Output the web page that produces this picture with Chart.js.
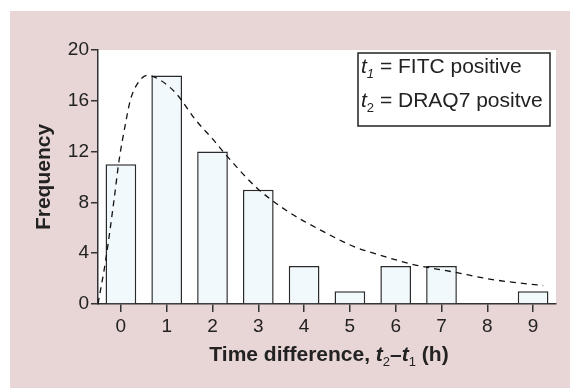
<!DOCTYPE html>
<html>
<head>
<meta charset="utf-8">
<script src="https://cdn.jsdelivr.net/npm/chart.js@4/dist/chart.umd.min.js"></script>
<style>
  body { margin: 0; background: #fff; }
  #panel { position: absolute; left: 10px; top: 11px; width: 560px; height: 377px; background: #e8d5d5; }
</style>
</head>
<body>
<div id="panel"><canvas id="histChart" width="560" height="377"></canvas></div>
<script>
// Dados do histograma
const categories = ['0', '1', '2', '3', '4', '5', '6', '7', '8', '9'];
const frequency = [11, 18, 12, 9, 3, 1, 3, 3, 0, 1];

// Curva ajustada (tracejada)
const fitX = [-0.5, -0.33, -0.15, -0.04, 0.09, 0.21, 0.39, 0.58, 0.87, 1.2, 1.63, 2.0, 2.4, 2.98, 3.64, 4.37, 5.1, 5.61, 6.34, 7.29, 8.16, 9.22];
const fitY = [0, 3.5, 8.2, 11.3, 14.0, 16.1, 17.5, 18.0, 17.6, 16.6, 14.5, 13.0, 11.3, 9.1, 7.3, 5.8, 4.5, 3.9, 3.15, 2.5, 1.9, 1.45];

const legendLines = [
  { sub: '1', text: ' = FITC positive' },
  { sub: '2', text: ' = DRAQ7 positve' }
];

const FONT = '"Liberation Sans", Arial, Helvetica, sans-serif';
const INK = '#222';

// desenha trechos de texto com estilos diferentes em sequência
function drawRuns(ctx, runs, x, y, align) {
  let total = 0;
  runs.forEach(r => { ctx.font = r.font; total += ctx.measureText(r.text).width; });
  let cx = align === 'center' ? x - total / 2 : x;
  ctx.textBaseline = 'alphabetic';
  ctx.textAlign = 'left';
  runs.forEach(r => {
    ctx.font = r.font;
    ctx.fillText(r.text, cx, y + (r.dy || 0));
    cx += ctx.measureText(r.text).width;
  });
}

const extras = {
  id: 'extras',
  beforeDraw(chart) {
    const { ctx, chartArea: a } = chart;
    ctx.save();
    ctx.fillStyle = '#fff';
    ctx.fillRect(a.left, a.top, a.right - a.left, a.bottom - a.top);
    ctx.restore();
  },
  afterDraw(chart) {
    const { ctx, chartArea: a } = chart;
    ctx.save();
    ctx.fillStyle = INK;

    // título do eixo y
    ctx.save();
    ctx.translate(34, (a.top + a.bottom) / 2);
    ctx.rotate(-Math.PI / 2);
    ctx.font = 'bold 21px ' + FONT;
    ctx.textAlign = 'center';
    ctx.textBaseline = 'middle';
    ctx.fillText('Frequency', 0, 0);
    ctx.restore();

    // título do eixo x
    const b = 'bold 21px ' + FONT, bi = 'italic bold 21px ' + FONT, s = '13px ' + FONT;
    drawRuns(ctx, [
      { text: 'Time difference, ', font: b },
      { text: 't', font: bi },
      { text: '2', font: s, dy: 5 },
      { text: '\u2013', font: b },
      { text: 't', font: bi },
      { text: '1', font: s, dy: 5 },
      { text: ' (h)', font: b }
    ], (a.left + a.right) / 2 + 2, 350, 'center');

    // caixa da legenda
    ctx.strokeStyle = INK;
    ctx.lineWidth = 1.5;
    ctx.strokeRect(348, 42, 192, 73);
    legendLines.forEach((l, i) => {
      drawRuns(ctx, [
        { text: 't', font: 'italic 21px ' + FONT },
        { text: l.sub, font: (i === 0 ? 'italic ' : '') + '13px ' + FONT, dy: 5 },
        { text: l.text, font: '21px ' + FONT }
      ], 351, 62 + i * 33.5, 'left');
    });
    ctx.restore();
  }
};

new Chart(document.getElementById('histChart'), {
  type: 'bar',
  data: {
    labels: categories,
    datasets: [
      {
        type: 'line',
        data: fitX.map((x, i) => ({ x: x, y: fitY[i] })),
        xAxisID: 'x2',
        borderColor: '#111',
        borderWidth: 1.3,
        borderDash: [6, 5],
        pointRadius: 0,
        cubicInterpolationMode: 'monotone',
        fill: false,
        order: 0
      },
      {
        type: 'bar',
        data: frequency,
        xAxisID: 'x',
        backgroundColor: '#f2f9fd',
        borderColor: '#2a2a2a',
        borderWidth: 1.5,
        barPercentage: 0.67,
        categoryPercentage: 1,
        grouped: false,
        order: 1
      }
    ]
  },
  options: {
    responsive: false,
    animation: false,
    events: [],
    layout: { padding: { top: 39, right: 14, left: 0, bottom: 0 } },
    plugins: { legend: { display: false }, tooltip: { enabled: false } },
    scales: {
      x: {
        type: 'category',
        offset: true,
        afterFit: s => { s.height = 84; },
        grid: { offset: false, drawOnChartArea: false, drawTicks: true, tickLength: 8, color: '#333', lineWidth: 1.5 },
        border: { display: true, color: '#333', width: 1.5 },
        ticks: { color: INK, font: { family: FONT, size: 19 }, padding: 3, maxRotation: 0 }
      },
      x2: {
        type: 'linear',
        display: false,
        offset: false,
        min: -0.5,
        max: 9.5
      },
      y: {
        min: 0,
        max: 20,
        afterFit: s => { s.width = 88; },
        grid: { drawOnChartArea: false, drawTicks: true, tickLength: 7, color: '#333', lineWidth: 1.5 },
        border: { display: true, color: '#333', width: 1.5 },
        ticks: { stepSize: 4, color: INK, font: { family: FONT, size: 19 }, padding: 2 }
      }
    }
  },
  plugins: [extras]
});
</script>
</body>
</html>
